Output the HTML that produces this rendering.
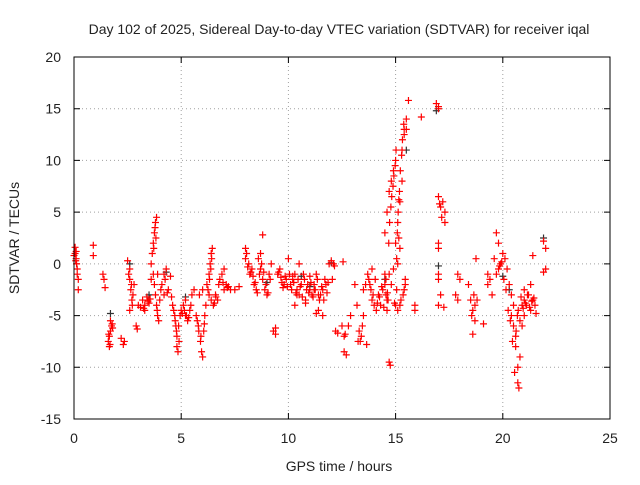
<!DOCTYPE html>
<html><head><meta charset="utf-8"><style>
html,body{margin:0;padding:0;background:#fff;}
svg text{font-family:"Liberation Sans",sans-serif;fill:#222;}
</style></head><body>
<svg id="chart" width="640" height="480" xmlns="http://www.w3.org/2000/svg">
<text x="339" y="34" font-size="14" text-anchor="middle">Day 102 of 2025, Sidereal Day-to-day VTEC variation (SDTVAR) for receiver iqal</text>
<g id="grid"></g>
<g id="ticks"></g>
<g id="series2"></g>
<g id="series1"></g>
<rect x="74" y="57" width="536" height="362" fill="none" stroke="#000" stroke-width="1"/>
<text x="339" y="471" font-size="14" text-anchor="middle">GPS time / hours</text>
<text x="0" y="0" font-size="14" text-anchor="middle" transform="translate(19,238) rotate(-90)">SDTVAR / TECUs</text>
</svg>
<script>
const xTicks=[0,5,10,15,20,25];
const yTicks=[20,15,10,5,0,-5,-10,-15];
const redX=[0.05,0.1,0.1,0.15,0.2,0.2,0.05,0.12,0.9,0.9,1.35,1.4,1.45,1.6,1.65,1.7,1.75,1.8,1.65,1.7,2.2,2.3,2.35,2.5,2.6,2.6,2.65,2.7,2.6,2.75,2.8,2.9,2.95,3.0,3.1,3.2,3.3,3.4,3.5,3.3,3.6,3.65,3.7,3.75,3.8,3.85,3.7,3.75,3.8,3.85,3.9,3.95,3.6,3.9,4.1,4.2,4.3,4.2,4.4,4.0,4.5,4.6,4.7,4.75,4.8,4.8,4.85,4.9,4.95,5.0,5.1,5.2,5.3,5.4,5.5,5.6,5.2,5.7,5.8,5.9,5.95,6.0,6.05,6.1,6.15,5.85,6.0,6.2,6.3,6.35,6.4,6.45,6.3,6.4,6.5,6.6,6.7,6.8,6.9,7.0,7.1,7.2,7.3,7.0,7.5,7.7,8.0,8.0,8.1,8.2,8.3,8.4,8.5,8.6,8.7,8.8,8.9,9.0,8.7,8.8,9.1,9.2,9.3,9.4,9.4,9.5,9.6,9.7,9.8,9.9,10.0,10.1,10.2,10.3,10.4,10.5,10.6,10.7,10.8,10.3,10.5,10.9,11.0,11.1,11.2,11.3,11.4,11.5,11.6,11.7,11.8,11.9,12.0,12.1,11.3,11.6,12.2,12.3,12.5,12.6,12.6,12.7,12.8,12.9,13.1,13.2,13.3,13.35,13.4,13.5,13.5,13.6,13.7,13.8,13.9,14.0,14.1,14.2,14.3,14.4,14.5,13.9,14.5,14.6,14.6,14.7,14.75,14.8,14.7,14.5,14.6,14.7,14.8,14.9,15.0,15.0,15.1,15.2,15.3,15.3,15.4,15.4,15.1,14.9,15.2,15.0,15.1,15.2,15.5,15.6,15.5,15.4,15.9,15.9,16.2,16.9,17.0,17.0,17.0,17.1,17.2,17.3,17.3,17.0,17.0,17.0,17.0,17.1,17.0,17.8,17.9,17.9,18.0,18.4,18.5,18.6,18.7,18.6,18.8,18.7,19.1,19.3,19.4,19.5,19.3,19.6,19.7,19.8,19.9,20.0,20.1,20.2,19.8,19.7,20.3,20.4,20.5,20.6,20.6,20.7,20.7,20.75,20.8,20.9,20.4,20.5,20.9,21.0,21.1,21.2,21.3,21.4,21.5,21.0,21.3,21.4,21.9,22.0,22.0,21.9,
0.0,0.08,0.15,1.62,1.68,1.78,2.55,2.68,2.72,3.25,3.45,3.55,3.72,3.78,3.82,3.88,4.05,4.25,4.35,4.55,4.65,4.72,4.78,4.88,5.05,5.15,5.25,5.35,5.45,5.75,5.82,5.92,6.08,6.25,6.32,6.38,6.42,6.55,6.62,6.75,6.95,7.15,8.05,8.15,8.25,8.35,8.45,8.55,8.65,8.75,8.85,8.95,9.05,9.15,9.55,9.65,9.75,9.85,9.95,10.05,10.15,10.25,10.35,10.45,10.55,10.65,10.75,10.85,10.95,11.05,11.15,11.25,11.35,11.45,11.55,11.65,11.75,11.85,10.2,10.4,10.6,10.8,11.0,11.2,11.4,12.05,12.15,12.55,12.65,13.25,13.45,13.65,13.75,13.85,13.95,14.05,14.15,14.25,14.35,14.45,14.55,14.65,14.55,14.62,14.68,14.72,14.78,14.82,14.88,14.92,14.98,15.02,15.08,15.12,15.18,15.22,15.28,15.32,15.38,15.45,15.05,15.15,15.25,15.35,15.45,14.95,15.05,15.15,17.05,17.15,17.25,18.55,18.65,18.75,19.85,19.95,20.05,20.15,20.25,20.35,20.45,20.55,20.62,20.68,20.72,20.85,20.95,21.05,21.15,21.25,21.35,21.45,21.55,20.8,21.0,21.2];
const redY=[1.6,1.2,0.5,-0.5,-1.5,-2.5,1.0,0,1.8,0.8,-1,-1.5,-2.3,-7.5,-7,-6.5,-6,-6.2,-8,-5.5,-7.2,-7.8,-7.5,0.3,-0.5,-1.5,-2.5,-3.5,-4.5,-3,-2,-6,-6.3,-4,-4.2,-3.5,-4,-3.2,-3.8,-4.5,0,1,2,3,4,4.5,-1,-2,-3,-4,-5,-5.5,-1.5,-1,-2,-1,-0.5,-3,-2.5,-3.5,-1.2,-4,-5,-6,-7,-8,-8.5,-7.5,-5,-4.5,-4,-5,-5.5,-4.5,-3,-2.5,-3.5,-5,-6,-7.5,-8.5,-9,-6.5,-5,-4,-3,-2.5,-2,-1,0,1,1.5,-3,-3.5,-4,-3,-3.5,-1.5,-1,-0.5,-2,-2.2,-2.5,-2.5,-2.5,-2.2,1.5,0.5,-0.3,-1,-0.5,-2,-2.5,0.5,-0.5,-1.5,-2.5,-3,1,2.8,-1,0,-6.5,-6.8,-6.2,-1,-0.5,-1.8,-2,-1.5,0.5,-2,-1.5,-1,-2.5,-3,-2,-1,-3.5,-4,0,-2,-2.5,-3,-2,-1,-4.5,-3,-2.5,-1.5,-2.8,0,0.3,0,-4.8,-5,-6.5,-6.7,-6,-7,-8.5,-8.8,-6,-5,-2,-4,-6.5,-7.5,-7,-5,-2.5,-2,-1,-2,-3.5,-4,-4.5,-3,-4,-2.5,-2,-0.5,-1,-3.5,-4.5,-9.5,-9.8,-2,-1,3,5,7,8,9,10,2,4,6,8,11,12.5,13,0,-0.5,1.5,-4,-4.5,-4,14,15.8,13,-2.5,-4,-4.5,14.2,15.5,15,15.2,6.5,5.5,6,5,4,2,1.5,-1,-1.5,-3,-4,-3,-3.5,-1,-1.5,-2,-3.5,-4.5,-5.5,-6.8,-3.5,-4,-5.8,-1,-1.5,-3,-2,0.5,3,2,0,1,0.5,-0.5,-0.5,-1,-2,-3,-4,-7,-8,-10,-11.5,-12,-9,-6,-5,-6,-4,-3.5,-4,-3,-4.5,-3.5,-4,-5,-2,0.8,2.2,1.5,-0.5,-0.8,
0.8,0.3,-1.0,-6.8,-7.8,-5.8,-1.0,-2.0,-4.0,-4.3,-3.6,-3.4,1.5,3.5,2.5,-4.5,-2.5,-1.5,-2.8,-3.2,-4.5,-5.5,-6.5,-6.0,-4.8,-4.5,-5.0,-5.2,-4.0,-5.5,-6.5,-7.0,-5.8,-2.5,-1.5,-0.5,0.5,-3.8,-3.2,-2.0,-1.8,-2.3,1.0,0,-0.8,-1.2,-1.8,-2.8,-1.0,0,-0.8,-2.0,-2.8,-1.5,-0.8,-1.3,-2.3,-1.2,-2.2,-1.0,-2.5,-1.8,-2.8,-1.5,-2.2,-3.2,-1.5,-2.5,-2.8,-1.8,-3.2,-2.5,-1.5,-3.5,-2.2,-3.5,-2.0,-1.8,-1.2,-3.0,-2.0,-3.8,-1.2,-2.5,-3.0,-1.5,-0.2,0.2,-6.8,-7.5,-6.0,-7.8,-1.5,-2.5,-3.0,-1.5,-3.8,-3.2,-2.2,-4.2,-3.0,-3.5,-1.5,-2.8,2.0,4.0,5.5,6.5,7.5,8.5,9.5,11.0,3.0,5.0,7.0,9.0,10.5,12.0,13.5,-1.5,0.5,2.5,-3.5,-3.0,-2.0,-3.8,-2.5,6.2,5.8,4.5,-4.2,-5.0,-3.0,0.5,-0.2,0.2,-1.5,-2.5,-4.5,-5.5,-7.5,-10.5,-6.5,-5.0,-4.5,-3.2,-4.3,-3.8,-3.0,-4.2,-3.6,-3.3,-4.8,-5.5,-2.5];
const grayX=[1.7,2.6,4.3,5.2,14.5,15.5,16.9,17.0,21.9,20.0,9.0,11.0,3.5,10.6,12.0,20.3];
const grayY=[-4.8,0,-0.8,-3.2,-1.5,11,14.8,-0.2,2.5,-1.2,-1.8,-2.2,-3.0,-1.2,0.1,-2.5];

const X0=74,X1=610,Y0=419,Y1=57,xmin=0,xmax=25,ymin=-15,ymax=20;
function sx(v){return X0+(v-xmin)/(xmax-xmin)*(X1-X0);}
function sy(v){return Y0-(v-ymin)/(ymax-ymin)*(Y0-Y1);}
const NS="http://www.w3.org/2000/svg";
function mk(tag,attrs,parent){const e=document.createElementNS(NS,tag);for(const k in attrs)e.setAttribute(k,attrs[k]);parent.appendChild(e);return e;}
const grid=document.getElementById('grid'),ticks=document.getElementById('ticks');
xTicks.forEach(t=>{
  const x=sx(t);
  if(t>xmin&&t<xmax){const g=mk('line',{x1:x,x2:x,y1:Y0,y2:Y1,stroke:'#a0a0a0','stroke-dasharray':'1,3','stroke-width':1},grid);
  
  }
  const tk=mk('path',{d:`M${x},${Y0}v-6M${x},${Y1}v6`,stroke:'#000'},ticks);
  
  
  const l=mk('text',{x:x,y:443,'font-size':14,'text-anchor':'middle'},ticks);l.textContent=t;
  
  
});
yTicks.forEach(t=>{
  const y=sy(t);
  if(t>ymin&&t<ymax){const g=mk('line',{x1:X0,x2:X1,y1:y,y2:y,stroke:'#a0a0a0','stroke-dasharray':'1,3','stroke-width':1},grid);
  
  }
  const tk=mk('path',{d:`M${X0},${y}h6M${X1},${y}h-6`,stroke:'#000'},ticks);
  
  
  const l=mk('text',{x:61,y:y+5,'font-size':14,'text-anchor':'end'},ticks);l.textContent=t;
  
  
});
function plot(xs,ys,color,parent){
  let d='';
  for(let i=0;i<xs.length;i++){const x=sx(xs[i]),y=sy(ys[i]);d+=`M${x-3.5},${y}h7M${x},${y-3.5}v7`;}
  const p=mk('path',{d:d,stroke:color,'stroke-width':1.2,fill:'none'},parent);
  
  
}
plot(grayX,grayY,'#333',document.getElementById('series2'));
plot(redX,redY,'#ff0000',document.getElementById('series1'));
</script>
</body></html>
